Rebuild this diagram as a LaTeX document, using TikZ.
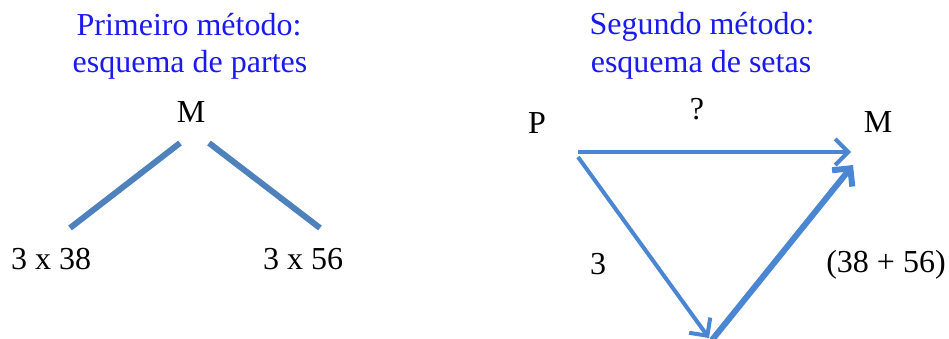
\documentclass[tikz,border=0pt]{standalone}
\usepackage{fontspec}
\setmainfont{Liberation Serif}
\usetikzlibrary{arrows.meta,positioning}
\definecolor{TitleBlue}{HTML}{1A1AF0}
\definecolor{Stem}{HTML}{4F81BD}
\definecolor{ArrowBlue}{HTML}{4A86D2}
\tikzset{
  title/.style={text=TitleBlue,anchor=base,inner sep=0pt},
  lbl/.style={text=black,anchor=base,inner sep=0pt},
  stem/.style={draw=Stem,line width=6pt},
  vec/.style={draw=ArrowBlue,line width=4pt,-{Straight Barb[length=13pt,width=26pt]}},
  vecBold/.style={vec,line width=6pt}
}

\begin{document}
\begin{tikzpicture}[x=1pt,y=-1pt,font=\fontsize{32}{38}\selectfont]
  \useasboundingbox (0,0) rectangle (949,338);
  % first method: parts
  \node[title] (t1a) at (189,35) {Primeiro método:};
  \node[title] (t1b) at (190,72) {esquema de partes};
  \node[lbl] (mL) at (191,122) {M};
  \node[lbl] (a38) at (51,269) {3 x 38};
  \node[lbl] (a56) at (303,269) {3 x 56};
  \coordinate (mL1) at (180,143); \coordinate (mL2) at (209,143);
  \coordinate (a38t) at (70,228); \coordinate (a56t) at (320,228);
  \draw[stem] (mL1) -- (a38t);
  \draw[stem] (mL2) -- (a56t);
  % second method: arrows
  \node[title] (t2a) at (702,34) {Segundo método:};
  \node[title] (t2b) at (701,72) {esquema de setas};
  \node[lbl] (p) at (537,133) {P};
  \node[lbl] (mR) at (878,132) {M};
  \node[lbl] (q) at (697,119) {?};
  \node[lbl] (three) at (598,274) {3};
  \node[lbl] (sum) at (886,272) {(38 + 56)};
  \coordinate (pA) at (578,152); \coordinate (pB) at (578,157);
  \coordinate (mA) at (851,152); \coordinate (mB) at (853,165);
  \coordinate (botA) at (709,338); \coordinate (botB) at (712,340);
  \draw[vec] (pA) -- (mA);
  \draw[vec] (pB) -- (botA);
  \draw[vecBold] (botB) -- (mB);
\end{tikzpicture}
\end{document}
